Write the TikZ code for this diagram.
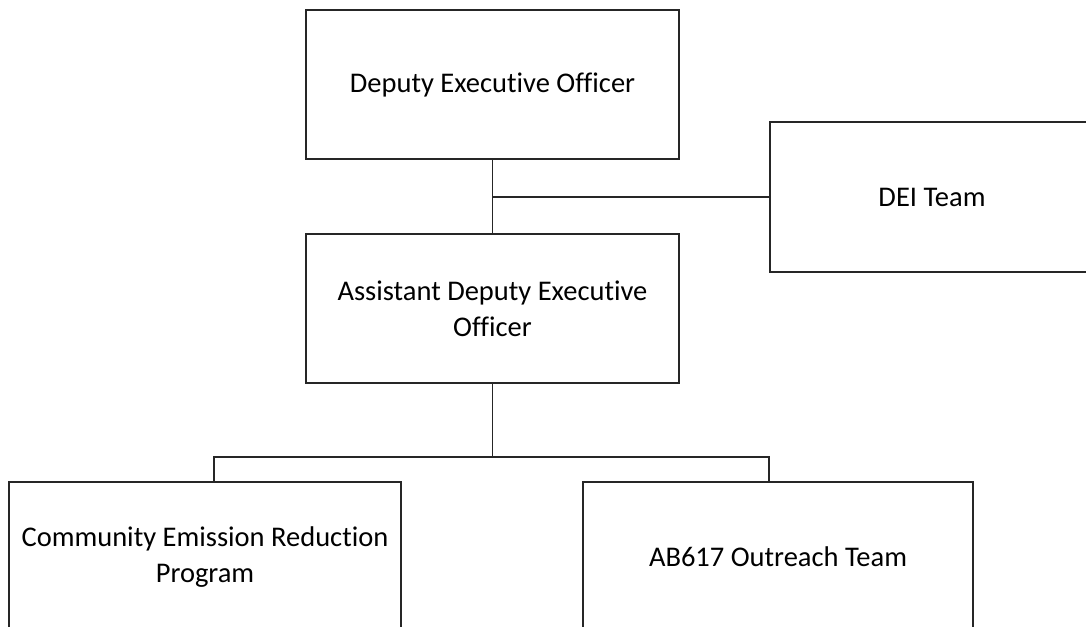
\documentclass[tikz,border=0pt]{standalone}
\usepackage{fontspec}
\setmainfont[Ligatures={NoCommon}]{Carlito}
\begin{document}
\begin{tikzpicture}[x=1pt,y=-1pt,
  box/.style={draw=black!85,line width=1.8pt,rectangle,inner sep=0pt,align=center,
    font=\fontsize{28.5}{36}\selectfont,text=black},
  conn/.style={draw=black!85,line width=1.8pt}]
\useasboundingbox (0,0) rectangle (1086,626);
\clip (0,0) rectangle (1086,626);
\fill[white] (0,0) rectangle (1086,626);
\node[box,minimum width=373pt,minimum height=149pt] (deo) at (492.5,84.5) {Deputy Executive Officer};
\node[box,minimum width=324pt,minimum height=150pt] (dei) at (932,197) {DEI Team};
\node[box,minimum width=373pt,minimum height=149pt] (adeo) at (492.5,308.5) {Assistant Deputy Executive\\Officer};
\node[box,minimum width=392pt,minimum height=150pt] (cerp) at (205,557) {Community Emission Reduction\\Program};
\node[box,minimum width=390pt,minimum height=150pt] (ab) at (778,557) {AB617 Outreach Team};
\coordinate (j1) at (deo.south |- dei.west);
\coordinate (j2) at (492.5,457);
\draw[conn] (deo.south) -- (adeo.north);
\draw[conn] (j1) -- (dei.west);
\draw[conn] (adeo.south) -- (j2);
\draw[conn] (cerp.north -| 214,0) |- (j2) -| (ab.north -| 769,0);
\end{tikzpicture}
\end{document}
